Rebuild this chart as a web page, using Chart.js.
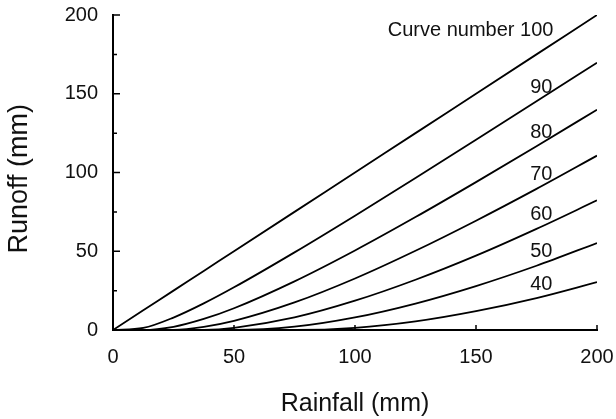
<!DOCTYPE html>
<html>
<head>
<meta charset="utf-8">
<style>
  html, body { margin: 0; padding: 0; background: #fff; }
  #wrap { width: 616px; height: 419px; }
</style>
</head>
<body>
<div id="wrap">
  <canvas id="myChart"></canvas>
</div>

<script src="https://cdn.jsdelivr.net/npm/chart.js"></script>

<script>
// rainfall (mm) on the x axis
const rainfall = [0, 12.5, 25, 37.5, 50, 75, 100, 125, 150, 175, 200];

// runoff (mm)
const cn100 = [0, 12.5, 25, 37.5, 50, 75, 100, 125, 150, 175, 200];
const cn90  = [0, 1.3, 7.9, 16.9, 27.1, 49.3, 72.6, 96.5, 120.8, 145.2, 169.7];
const cn80  = [0, 0, 2.0, 7.0, 13.8, 30.9, 50.5, 71.7, 93.9, 116.7, 139.9];
const cn70  = [0, 0, 0.1, 2.0, 5.8, 17.5, 32.7, 50.3, 69.4, 89.6, 110.7];
const cn60  = [0, 0, 0, 0.1, 1.4, 8.0, 18.6, 31.9, 47.2, 64.2, 82.3];
const cn50  = [0, 0, 0, 0, 0, 2.1, 8.0, 16.8, 27.9, 40.8, 55.2];
const cn40  = [0, 0, 0, 0, 0, 0, 1.4, 5.5, 12.0, 20.3, 30.4];

const curveLabels = ["Curve number 100", "90", "80", "70", "60", "50", "40"];
const xTicks = [0, 50, 100, 150, 200];
const yTicks = [0, 50, 100, 150, 200];

const series = [cn100, cn90, cn80, cn70, cn60, cn50, cn40];
const FONT = "'Liberation Sans', Arial, sans-serif";
const LABEL_AT = rainfall.indexOf(175);

const datasets = series.map((vals, i) => ({
  label: curveLabels[i],
  data: vals.map((v, j) => ({ x: rainfall[j], y: v })),
  borderColor: "#000",
  borderWidth: 1.8,
  pointRadius: 0,
  fill: false,
  cubicInterpolationMode: "monotone"
}));

// inward ticks, curve labels, y title (sits a little below centre in the original)
const extras = {
  id: "extras",
  afterDatasetsDraw(chart) {
    const ctx = chart.ctx;
    const xs = chart.scales.x, ys = chart.scales.y;
    const area = chart.chartArea;
    ctx.save();
    ctx.strokeStyle = "#000";
    ctx.lineWidth = 1.5;
    ctx.beginPath();
    for (let v = 25; v <= 200; v += 25) {
      const py = ys.getPixelForValue(v);
      const len = v % 50 === 0 ? 7 : 4;
      ctx.moveTo(area.left, py);
      ctx.lineTo(area.left + len, py);
    }
    for (let v = 50; v <= 200; v += 50) {
      const px = xs.getPixelForValue(v);
      ctx.moveTo(px, area.bottom);
      ctx.lineTo(px, area.bottom - 5);
    }
    ctx.stroke();

    ctx.fillStyle = "#111";
    ctx.textBaseline = "middle";
    ctx.font = "20px " + FONT;
    series.forEach((vals, i) => {
      const py = ys.getPixelForValue(vals[LABEL_AT]);
      if (i === 0) {
        ctx.textAlign = "right";
        ctx.fillText(curveLabels[i], xs.getPixelForValue(182), py - 24);
      } else {
        ctx.textAlign = "center";
        ctx.fillText(curveLabels[i], xs.getPixelForValue(177), py - 14);
      }
    });

    ctx.font = "27px " + FONT;
    ctx.textAlign = "center";
    ctx.translate(20, ys.getPixelForValue(96));
    ctx.rotate(-Math.PI / 2);
    ctx.fillText("Runoff (mm)", 0, 0);
    ctx.restore();
  }
};

const config = {
  type: "line",
  data: { datasets: datasets },
  options: {
    animation: false,
    responsive: true,
    maintainAspectRatio: false,
    layout: { padding: { top: 15, right: 19, left: 0, bottom: 0 } },
    plugins: { legend: { display: false }, tooltip: { enabled: false } },
    scales: {
      x: {
        type: "linear",
        min: 0,
        max: 200,
        afterBuildTicks: s => { s.ticks = xTicks.map(v => ({ value: v })); },
        afterFit: s => { s.height = 89; s.paddingLeft = 0; s.paddingRight = 0; },
        grid: { display: false, drawTicks: false },
        border: { display: true, color: "#000", width: 2 },
        ticks: { color: "#111", padding: 15, font: { family: FONT, size: 20 } },
        title: {
          display: true,
          text: "Rainfall (mm)",
          color: "#111",
          padding: { top: 0, bottom: 0 },
          font: { family: FONT, size: 25 }
        }
      },
      y: {
        type: "linear",
        min: 0,
        max: 200,
        afterBuildTicks: s => { s.ticks = yTicks.map(v => ({ value: v })); },
        afterFit: s => { s.width = 113; s.paddingTop = 0; s.paddingBottom = 0; },
        grid: { display: false, drawTicks: false },
        border: { display: true, color: "#000", width: 2 },
        ticks: { color: "#111", padding: 15, font: { family: FONT, size: 20 } },
        title: { display: false }
      }
    }
  },
  plugins: [extras]
};

const ctx = document.getElementById("myChart");
const runoffChart = new Chart(ctx, config);
</script>
</body>
</html>
